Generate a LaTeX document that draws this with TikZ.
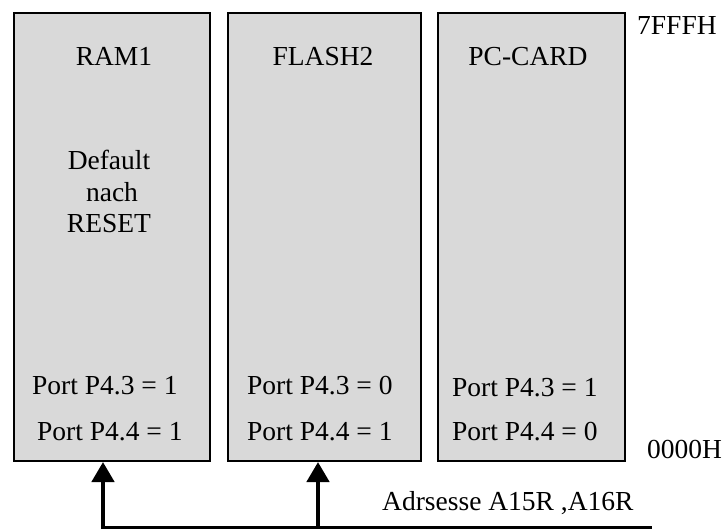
\documentclass[tikz,border=0pt]{standalone}
\usepackage{fontspec}
\setmainfont{Liberation Serif}
\usetikzlibrary{arrows.meta}
\definecolor{memfill}{RGB}{217,217,217}
\begin{document}
\begin{tikzpicture}[x=1pt,y=-1pt,
  membox/.style={draw=black,line width=2pt,fill=memfill,inner sep=0pt,
    anchor=north west,minimum height=448pt},
  lbl/.style={inner sep=0pt,font=\fontsize{27.5}{32}\selectfont},
  bus/.style={line width=3pt},
  busarrow/.style={line width=4.5pt,-{Triangle[length=20pt,width=22pt]}}]
  \useasboundingbox (0,0) rectangle (726,529);

  % memory banks
  \node[membox,minimum width=196pt] (ram)   at (13,12)  {};
  \node[membox,minimum width=193pt] (flash) at (227,12) {};
  \node[membox,minimum width=187pt] (pc)    at (437,12) {};

  % bank titles
  \node[lbl,anchor=base] (tram)   at (114,66) {RAM1};
  \node[lbl,anchor=base] (tflash) at (323,66) {FLASH2};
  \node[lbl,anchor=base] (tpc)    at (528,66) {PC-CARD};

  \node[lbl,anchor=base] (d1) at (109,170) {Default};
  \node[lbl,anchor=base] (d2) at (112,202) {nach};
  \node[lbl,anchor=base] (d3) at (109,233) {RESET};

  % port settings
  \node[lbl,anchor=base west] (r3) at (32,395)  {Port P4.3 = 1};
  \node[lbl,anchor=base west] (r4) at (37,440)  {Port P4.4 = 1};
  \node[lbl,anchor=base west] (f3) at (247,395) {Port P4.3 = 0};
  \node[lbl,anchor=base west] (f4) at (247,440) {Port P4.4 = 1};
  \node[lbl,anchor=base west] (p3) at (452,397) {Port P4.3 = 1};
  \node[lbl,anchor=base west] (p4) at (452,440) {Port P4.4 = 0};

  % address range
  \node[lbl,anchor=base west] (top) at (637,35)  {7FFFH};
  \node[lbl,anchor=base west] (bot) at (647,458) {0000H};

  % address bus
  \coordinate (busL) at (101,527);
  \coordinate (busR) at (652,527);
  \coordinate (tapA) at (103,527);
  \coordinate (tapB) at (318,527);
  \draw[bus] (busL) -- (busR);
  \draw[busarrow] (tapA) -- (tapA |- ram.south);
  \draw[busarrow] (tapB) -- (tapB |- flash.south);
  \node[lbl,anchor=base west] (addr) at (382,510) {Adrsesse A15R ,A16R};
\end{tikzpicture}
\end{document}
